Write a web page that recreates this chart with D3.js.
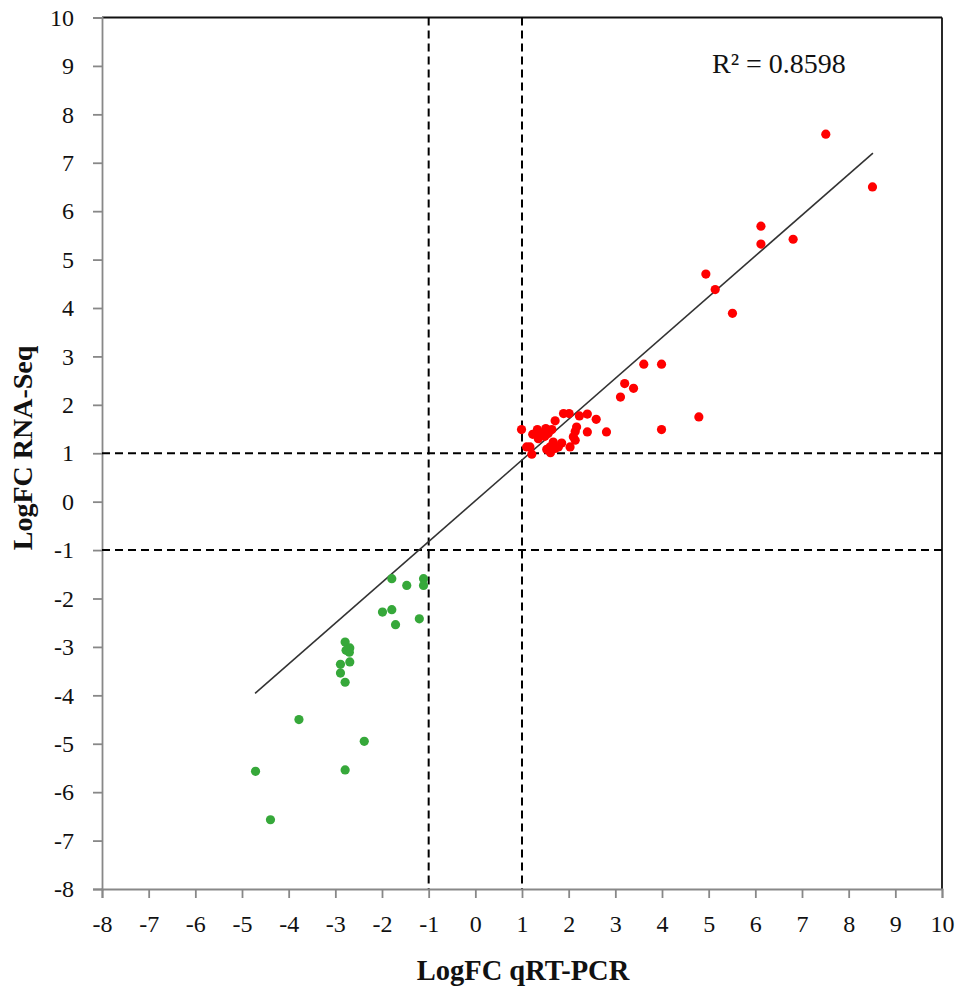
<!DOCTYPE html>
<html>
<head>
<meta charset="utf-8">
<script src="https://cdn.jsdelivr.net/npm/d3@7/dist/d3.min.js"></script>
<style>
html,body{margin:0;padding:0;background:#fff;}
svg{display:block;}
text{font-family:"Liberation Serif","DejaVu Serif",serif;}
</style>
</head>
<body>
<svg id="chart" width="964" height="994"></svg>
<script>
// Data (x = LogFC qRT-PCR, y = LogFC RNA-Seq)
const upX = [7.51,8.51,6.12,6.12,6.81,4.94,5.14,5.51,3.61,3.99,3.20,3.39,3.11,4.79,3.99,2.81,2.59,2.40,2.40,2.23,2.01,1.89,1.71,2.17,2.14,2.10,2.14,2.03,1.85,1.78,1.67,1.60,1.61,1.53,1.71,1.51,1.64,1.56,1.33,1.23,1.35,1.17,1.10,1.21,0.99,1.37,1.49];
const upY = [7.59,6.50,5.69,5.32,5.42,4.70,4.38,3.89,2.84,2.84,2.44,2.34,2.16,1.75,1.49,1.44,1.70,1.81,1.44,1.77,1.82,1.82,1.67,1.54,1.45,1.34,1.27,1.13,1.21,1.13,1.23,1.13,1.01,1.08,1.10,1.51,1.49,1.41,1.49,1.39,1.30,1.13,1.13,0.98,1.49,1.42,1.35];
const downX = [-1.79,-1.47,-1.11,-1.11,-1.99,-1.79,-1.71,-1.20,-2.79,-2.69,-2.77,-2.70,-2.69,-2.89,-2.89,-2.79,-3.78,-2.38,-4.71,-2.79,-4.39];
const downY = [-1.59,-1.73,-1.59,-1.73,-2.28,-2.23,-2.54,-2.42,-2.90,-3.02,-3.07,-3.11,-3.31,-3.36,-3.54,-3.73,-4.50,-4.95,-5.57,-5.54,-6.57];
const xTicks = [-8,-7,-6,-5,-4,-3,-2,-1,0,1,2,3,4,5,6,7,8,9,10];
const yTicks = [-8,-7,-6,-5,-4,-3,-2,-1,0,1,2,3,4,5,6,7,8,9,10];
const thresholdsX = [-1, 1];
const thresholdsY = [1, -1];
const trendX = [-4.72, 8.52];
const trendY = [-3.96, 7.20];
const r2Label = "R² = 0.8598";
const xTitle = "LogFC qRT-PCR";
const yTitle = "LogFC RNA-Seq";

const svg = d3.select("#chart");
const L = 102, R = 942, T = 17.5, B = 889;
const x = d3.scaleLinear().domain([-8, 10]).range([L, R]);
const y = d3.scaleLinear().domain([-8, 10]).range([B, T]);
const fmt = d => String(d);

// top & right border
svg.append("line").attr("x1", L).attr("x2", R).attr("y1", T).attr("y2", T)
  .attr("stroke", "#111").attr("stroke-width", 1.8);
svg.append("line").attr("x1", R).attr("x2", R).attr("y1", T).attr("y2", B)
  .attr("stroke", "#111").attr("stroke-width", 1.8);

// axes
const xAxis = svg.append("g").attr("transform", `translate(0,${B})`)
  .call(d3.axisBottom(x).tickValues(xTicks).tickSize(9).tickPadding(12).tickFormat(fmt));
const yAxis = svg.append("g").attr("transform", `translate(${L},0)`)
  .call(d3.axisLeft(y).tickValues(yTicks).tickSize(9).tickPadding(19).tickFormat(fmt));
[xAxis, yAxis].forEach(g => {
  g.select(".domain").attr("stroke", "#888").attr("stroke-width", 1.8);
  g.selectAll(".tick line").attr("stroke", "#888").attr("stroke-width", 1.8);
  g.selectAll(".tick text").attr("fill", "#111").style("font-size", "24px")
    .style("font-family", "'Liberation Serif', serif");
});
xAxis.selectAll(".tick text").attr("dy", "0.9em");

// threshold dashed lines
thresholdsX.forEach(v => {
  svg.append("line").attr("x1", x(v)).attr("x2", x(v)).attr("y1", T).attr("y2", B)
    .attr("stroke", "#000").attr("stroke-width", 2).attr("stroke-dasharray", "8,5");
});
thresholdsY.forEach(v => {
  svg.append("line").attr("x1", L).attr("x2", R).attr("y1", y(v)).attr("y2", y(v))
    .attr("stroke", "#000").attr("stroke-width", 2).attr("stroke-dasharray", "8,5");
});

// trend line
svg.append("line")
  .attr("x1", x(trendX[0])).attr("y1", y(trendY[0]))
  .attr("x2", x(trendX[1])).attr("y2", y(trendY[1]))
  .attr("stroke", "#333").attr("stroke-width", 1.6);

// points
const up = upX.map((v, i) => [v, upY[i]]);
const down = downX.map((v, i) => [v, downY[i]]);
svg.append("g").selectAll("circle").data(up).join("circle")
  .attr("cx", d => x(d[0])).attr("cy", d => y(d[1])).attr("r", 4.6)
  .attr("fill", "#ff0000");
svg.append("g").selectAll("circle").data(down).join("circle")
  .attr("cx", d => x(d[0])).attr("cy", d => y(d[1])).attr("r", 4.6)
  .attr("fill", "#36a83a");

// R2 label
svg.append("text").attr("x", 712).attr("y", 73).attr("fill", "#111")
  .style("font-size", "28px").text(r2Label);

// axis titles
svg.append("text").attr("x", 523).attr("y", 980).attr("text-anchor", "middle")
  .attr("fill", "#111").style("font-size", "28.5px").style("font-weight", "bold").text(xTitle);
svg.append("text").attr("transform", "translate(32,448) rotate(-90)").attr("text-anchor", "middle")
  .attr("fill", "#111").style("font-size", "28px").style("font-weight", "bold").text(yTitle);
</script>
</body>
</html>
